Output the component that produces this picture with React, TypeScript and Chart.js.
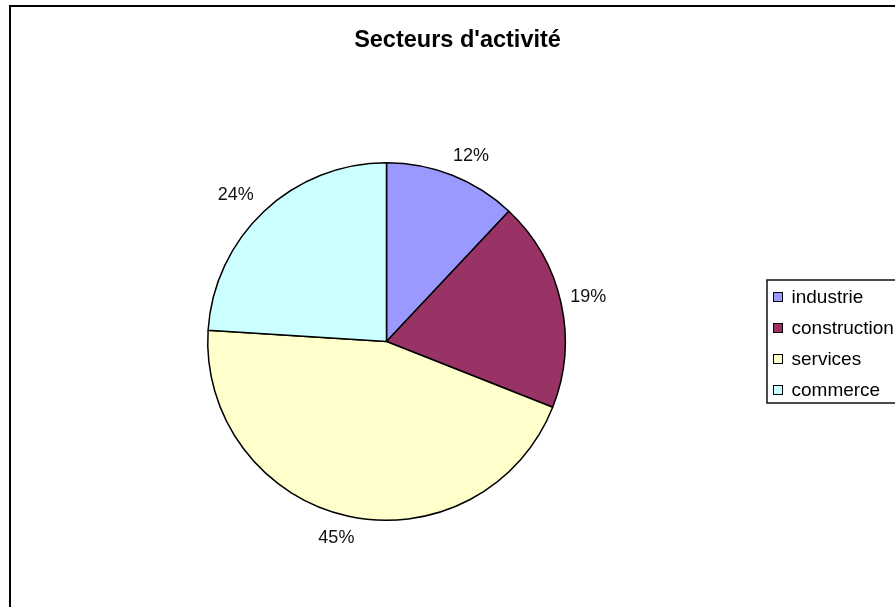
import React, { useEffect, useRef } from "react";
import { Chart, registerables } from "chart.js";

Chart.register(...registerables);

const chartTitle = "Secteurs d'activité";
const categories = ["industrie", "construction", "services", "commerce"];
const values = [12, 19, 45, 24];
const sliceColors = ["#9999FF", "#993366", "#FFFFCC", "#CCFFFF"];

const FONT = "'Liberation Sans', Arial, sans-serif";

const framePlugin = {
  id: "excelFrame",
  beforeDraw(chart: any) {
    const ctx = chart.ctx;
    ctx.save();
    ctx.fillStyle = "#ffffff";
    ctx.fillRect(0, 0, chart.width, chart.height);
    ctx.strokeStyle = "#000000";
    ctx.lineWidth = 2;
    ctx.strokeRect(10, 6, 900, 700);
    ctx.fillStyle = "#000000";
    ctx.font = `bold 23.5px ${FONT}`;
    ctx.textAlign = "center";
    ctx.textBaseline = "alphabetic";
    ctx.fillText(chartTitle, 457.5, 46.5);
    ctx.restore();
  },
  afterDraw(chart: any) {
    const ctx = chart.ctx;
    const labels = chart.data.labels as string[];
    const bg = chart.data.datasets[0].backgroundColor as string[];
    ctx.save();
    // legend box
    ctx.strokeStyle = "#111111";
    ctx.lineWidth = 1.5;
    ctx.strokeRect(767, 280, 160, 123);
    ctx.font = `19px ${FONT}`;
    ctx.textAlign = "left";
    ctx.textBaseline = "middle";
    labels.forEach((lab, i) => {
      const cy = 297 + i * 31;
      ctx.fillStyle = bg[i];
      ctx.fillRect(773.5, cy - 4.5, 9, 9);
      ctx.lineWidth = 1;
      ctx.strokeStyle = "#000000";
      ctx.strokeRect(773.5, cy - 4.5, 9, 9);
      ctx.fillStyle = "#000000";
      ctx.fillText(lab, 791.5, cy + 1);
    });
    ctx.restore();
  },
};

const pctLabelPlugin = {
  id: "pctLabels",
  afterDatasetsDraw(chart: any) {
    const ctx = chart.ctx;
    const meta = chart.getDatasetMeta(0);
    const data = chart.data.datasets[0].data as number[];
    const total = data.reduce((a, b) => a + b, 0);
    ctx.save();
    ctx.font = `18px ${FONT}`;
    ctx.fillStyle = "#111111";
    ctx.textAlign = "center";
    ctx.textBaseline = "middle";
    meta.data.forEach((arc: any, i: number) => {
      const p = arc.getProps(["x", "y", "startAngle", "endAngle", "outerRadius"], true);
      const mid = (p.startAngle + p.endAngle) / 2;
      const ux = Math.cos(mid);
      const uy = Math.sin(mid);
      const text = Math.round((data[i] / total) * 100) + "%";
      const w = ctx.measureText(text).width;
      const h = 13;
      const R = p.outerRadius + 15;
      const sx = Math.max(-1, Math.min(1, ux * 2)) * (Math.abs(ux) > 0.9 ? 0.7 : 1);
      const sy = Math.max(-1, Math.min(1, uy * 2));
      const cx = p.x + R * ux + (w / 2) * sx;
      const cy = p.y + R * uy + (h / 2) * sy;
      ctx.fillText(text, cx, cy + 1);
    });
    ctx.restore();
  },
};

export default function App() {
  const canvasRef = useRef<HTMLCanvasElement | null>(null);

  useEffect(() => {
    if (!canvasRef.current) return;
    const chart = new Chart(canvasRef.current, {
      type: "pie",
      data: {
        labels: categories,
        datasets: [
          {
            data: values,
            backgroundColor: sliceColors,
            borderColor: "#000000",
            borderWidth: 1.5,
          },
        ],
      },
      options: {
        responsive: false,
        animation: false,
        devicePixelRatio: 1,
        layout: { padding: { left: 207, right: 329, top: 162, bottom: 86 } },
        plugins: {
          legend: { display: false },
          title: { display: false },
          tooltip: { enabled: false },
        },
      },
      plugins: [framePlugin, pctLabelPlugin],
    });
    return () => chart.destroy();
  }, []);

  return (
    <div style={{ position: "absolute", left: 0, top: 0, width: 895, height: 607, overflow: "hidden" }}>
      <canvas ref={canvasRef} width={895} height={607} style={{ display: "block" }} />
    </div>
  );
}
